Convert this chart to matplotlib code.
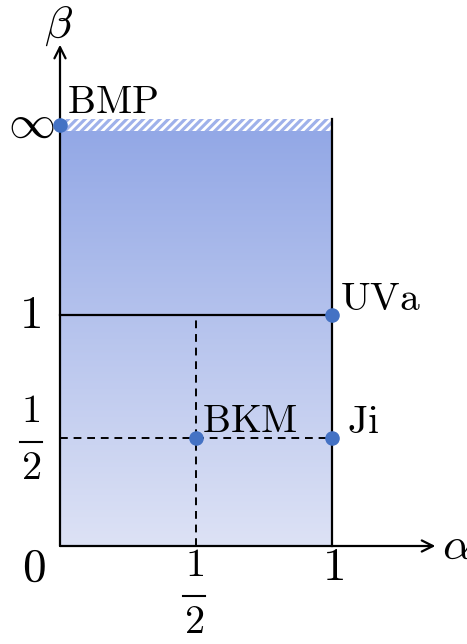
import numpy as np
import matplotlib
matplotlib.use('Agg')
from matplotlib import pyplot as plt
from matplotlib.colors import LinearSegmentedColormap

plt.rcParams['mathtext.fontset'] = 'cm'
plt.rcParams['hatch.linewidth'] = 2.0

# parameter values and where they sit on the drawn axes
alpha_ticks = [0, 0.5, 1]
beta_ticks = [0.5, 1, np.inf]
beta_pos = {0: 0.0, 0.5: 0.468, 1: 1.0, np.inf: 1.822}

points_alpha = [0, 1, 0.5, 1]
points_beta = [np.inf, 1, 0.5, 0.5]
points_names = ['BMP', 'UVa', 'BKM', 'Ji']

blue = '#4472c4'


def yb(b):
    return beta_pos[b]


def frac(ax, x, y, num='1', den='2', size=29):
    # stacked fraction: numerator, bar, denominator
    ax.plot([x - 0.039, x + 0.039], [y, y], color='black', lw=1.5)
    ax.annotate(r'$%s$' % num, (x, y), xytext=(0, 22), textcoords='offset points',
                fontsize=size, ha='center', va='center')
    ax.annotate(r'$%s$' % den, (x, y), xytext=(0, -19), textcoords='offset points',
                fontsize=size, ha='center', va='center')


fig = plt.figure(figsize=(4.67, 6.44), dpi=100)
ax = fig.add_axes([0, 0, 1, 1])
ax.set_xlim(-60 / 272, 407 / 272)
ax.set_ylim(-98 / 231, 546 / 231)
ax.axis('off')

top = yb(np.inf)
band = 0.026

# gradient filled region
cmap = LinearSegmentedColormap.from_list('g', ['#dde2f5', '#93a8e6'])
grad = np.linspace(0, 1, 256).reshape(-1, 1)
ax.imshow(grad, extent=[0, 1, 0, top - band], origin='lower', cmap=cmap,
          aspect='auto', zorder=1)
# hatched band at infinity
ax.fill_between([0, 1], top - band, top + band, facecolor='#9fb1ea',
                edgecolor='white', hatch='////', linewidth=0, zorder=1)

# lines
ax.plot([1, 1], [0, top + band], color='black', lw=1.6, zorder=2)
ax.plot([0, 1], [yb(1), yb(1)], color='black', lw=1.6, zorder=2)
ax.plot([0, 1], [yb(0.5), yb(0.5)], color='black', lw=1.4, ls=(0, (4, 3)), zorder=2)
ax.plot([0.5, 0.5], [0, yb(1)], color='black', lw=1.4, ls=(0, (4, 3)), zorder=2)

# axes arrows
ax.annotate('', xy=(1.38, 0), xytext=(0, 0),
            arrowprops=dict(arrowstyle='->', lw=1.6, color='black',
                            mutation_scale=20, shrinkA=0, shrinkB=0), zorder=3)
ax.annotate('', xy=(0, 2.17), xytext=(0, 0),
            arrowprops=dict(arrowstyle='->', lw=1.6, color='black',
                            mutation_scale=20, shrinkA=0, shrinkB=0), zorder=3)
ax.text(1.405, 0, r'$\alpha$', fontsize=33, ha='left', va='center')
ax.text(-0.007, 2.255, r'$\beta$', fontsize=33, ha='center', va='center')

# tick labels
ax.text(-0.096, -0.095, r'$0$', fontsize=34, ha='center', va='center')
frac(ax, alpha_ticks[1] - 0.007, -0.216)
ax.text(alpha_ticks[2] + 0.003, -0.095, r'$1$', fontsize=34, ha='center', va='center')
frac(ax, -0.107, yb(beta_ticks[0]) - 0.018)
ax.text(-0.11, yb(beta_ticks[1]), r'$1$', fontsize=34, ha='center', va='center')
ax.text(-0.107, yb(beta_ticks[2]), r'$\infty$', fontsize=34, ha='center', va='center')

# named points
ax.scatter(points_alpha, [yb(b) for b in points_beta], s=90, color=blue, zorder=4)
offsets = {'BMP': (0.026, 0.052), 'UVa': (0.03, 0.022), 'BKM': (0.022, 0.026), 'Ji': (0.055, 0.022)}
for a, b, n in zip(points_alpha, points_beta, points_names):
    dx, dy = offsets[n]
    ax.text(a + dx, yb(b) + dy, r'$\mathrm{%s}$' % n, fontsize=28.5,
            ha='left', va='baseline', zorder=5)

fig.savefig('out.png', dpi=100)
